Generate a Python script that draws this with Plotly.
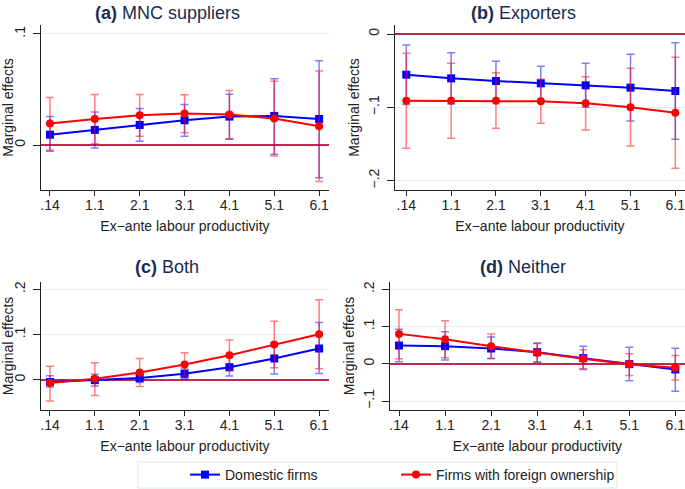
import plotly.graph_objects as go

W, H = 685, 489

labels = [".14", "1.1", "2.1", "3.1", "4.1", "5.1", "6.1"]

a_dom = [0.0093, 0.0136, 0.0181, 0.0223, 0.0256, 0.0262, 0.0235]
a_dom_lo = [-0.0057, -0.0027, 0.0033, 0.0078, 0.0051, -0.0084, -0.0295]
a_dom_hi = [0.0256, 0.0298, 0.0328, 0.0364, 0.0458, 0.0596, 0.0759]
a_for = [0.0193, 0.0235, 0.0268, 0.0283, 0.0274, 0.0238, 0.0169]
a_for_lo = [-0.0048, 0.0012, 0.0078, 0.0111, 0.0057, -0.0099, -0.0328]
a_for_hi = [0.0428, 0.0455, 0.0455, 0.0452, 0.0491, 0.0575, 0.0666]

b_dom = [-0.0555, -0.0605, -0.0641, -0.0673, -0.0700, -0.0732, -0.0777]
b_dom_lo = [-0.096, -0.0955, -0.091, -0.0905, -0.100, -0.1186, -0.1436]
b_dom_hi = [-0.015, -0.0255, -0.0373, -0.0441, -0.040, -0.0277, -0.0118]
b_for = [-0.0909, -0.0909, -0.0909, -0.0918, -0.0945, -0.1000, -0.1073]
b_for_lo = [-0.1559, -0.1423, -0.1286, -0.1218, -0.1309, -0.1527, -0.1832]
b_for_hi = [-0.0264, -0.0400, -0.0527, -0.0618, -0.0582, -0.0468, -0.0318]

c_dom = [-0.0050, -0.0007, 0.0037, 0.0132, 0.0279, 0.0471, 0.0691]
c_dom_lo = [-0.0160, -0.0140, -0.0060, 0.0020, 0.0081, 0.0125, 0.0140]
c_dom_hi = [0.0088, 0.0120, 0.0130, 0.0240, 0.0507, 0.0817, 0.1265]
c_for = [-0.0074, 0.0022, 0.0162, 0.0338, 0.0544, 0.0779, 0.1007]
c_for_lo = [-0.0471, -0.0346, -0.0147, 0.0081, 0.0199, 0.0265, 0.0243]
c_for_hi = [0.0301, 0.0375, 0.0471, 0.0596, 0.0882, 0.1294, 0.1772]

d_dom = [0.0491, 0.0473, 0.0411, 0.0313, 0.0152, -0.0009, -0.0152]
d_dom_lo = [0.0055, 0.0100, 0.0143, 0.0045, -0.0150, -0.0455, -0.0740]
d_dom_hi = [0.0930, 0.0860, 0.0720, 0.0560, 0.0470, 0.0446, 0.0420]
d_for = [0.0804, 0.0661, 0.0473, 0.0295, 0.0134, -0.0009, -0.0107]
d_for_lo = [0.0134, 0.0160, 0.0143, 0.0045, -0.0125, -0.0313, -0.0438]
d_for_hi = [0.1450, 0.1160, 0.0804, 0.0545, 0.0375, 0.0268, 0.0223]

panel_titles = ["<b>(a)</b> MNC suppliers", "<b>(b)</b> Exporters",
                "<b>(c)</b> Both", "<b>(d)</b> Neither"]
series_names = ["Domestic firms", "Firms with foreign ownership"]
x_title = "Ex\u2212ante labour productivity"
y_title = "Marginal effects"

a_ticks = [0, 0.1]
a_ticktext = ["0", ".1"]
b_ticks = [-0.2, -0.1, 0]
b_ticktext = ["\u2212.2", "\u2212.1", "0"]
c_ticks = [0, 0.1, 0.2]
c_ticktext = ["0", ".1", ".2"]
d_ticks = [-0.1, 0, 0.1, 0.2]
d_ticktext = ["\u2212.1", "0", ".1", ".2"]

FONT = "Liberation Sans, Arial, Helvetica, sans-serif"
BLUE = "#0000ff"
RED = "#ff0000"
TITLE_C = "#1c2b4f"
TXT = "#222222"
ZERO_C = "#c0284f"


def px_x(p):
    return p / W


def px_y(p):
    return 1 - p / H


panels = [
    dict(dom=(a_dom, a_dom_lo, a_dom_hi), fr=(a_for, a_for_lo, a_for_hi),
         box=(41, 329, 25, 190), xr=[-0.2, 6.22], yr=[-0.0405, 0.1081],
         ticks=(a_ticks, a_ticktext), title=panel_titles[0], tx=167, ty=13),
    dict(dom=(b_dom, b_dom_lo, b_dom_hi), fr=(b_for, b_for_lo, b_for_hi),
         box=(395, 685, 25, 190), xr=[-0.252, 6.216], yr=[-0.2128, 0.0123],
         ticks=(b_ticks, b_ticktext), title=panel_titles[1], tx=523, ty=13),
    dict(dom=(c_dom, c_dom_lo, c_dom_hi), fr=(c_for, c_for_lo, c_for_hi),
         box=(41, 329, 282, 410), xr=[-0.2, 6.22], yr=[-0.0669, 0.2163],
         ticks=(c_ticks, c_ticktext), title=panel_titles[2], tx=167, ty=267),
    dict(dom=(d_dom, d_dom_lo, d_dom_hi), fr=(d_for, d_for_lo, d_for_hi),
         box=(390, 685, 282, 410), xr=[-0.196, 6.21], yr=[-0.1241, 0.2198],
         ticks=(d_ticks, d_ticktext), title=panel_titles[3], tx=523, ty=267),
]

fig = go.Figure()
layout = dict(
    width=W, height=H,
    margin=dict(l=0, r=0, t=0, b=0, autoexpand=False),
    paper_bgcolor="white", plot_bgcolor="white",
    font=dict(family=FONT, size=13, color=TXT),
    showlegend=True,
)
annotations = []
shapes = []

for i, p in enumerate(panels):
    n = "" if i == 0 else str(i + 1)
    xa, ya = "x" + n, "y" + n
    for (vals, lo, hi), color, sym, name, ebc, lg in [
        (p["dom"], BLUE, "square", series_names[0], "rgba(0,0,255,0.5)", "legend"),
        (p["fr"], RED, "circle", series_names[1], "rgba(255,0,0,0.5)", "legend2"),
    ]:
        fig.add_trace(go.Scatter(
            x=labels, y=vals, xaxis=xa, yaxis=ya, mode="lines+markers",
            name=name, showlegend=(i == 0), legend=lg, cliponaxis=False,
            line=dict(color=color, width=2),
            marker=dict(symbol=sym, color=color, size=8),
            error_y=dict(type="data", symmetric=False,
                         array=[h - v for h, v in zip(hi, vals)],
                         arrayminus=[v - l for v, l in zip(vals, lo)],
                         color=ebc, thickness=1.5, width=4),
        ))
    l, r, t, b = p["box"]
    layout["xaxis" + n] = dict(
        domain=[px_x(l), px_x(r)], anchor=ya, type="category",
        categoryorder="array", categoryarray=labels,
        range=p["xr"], showgrid=False, zeroline=False, automargin=False,
        showline=True, linecolor=TXT, linewidth=1,
        ticks="outside", ticklen=5, tickcolor=TXT, ticklabelstandoff=-3,
        tickfont=dict(size=14, color=TXT),
        title=dict(text=x_title, font=dict(size=14, color=TXT), standoff=9),
    )
    layout["yaxis" + n] = dict(
        domain=[px_y(b), px_y(t)], anchor=xa, range=p["yr"],
        tickvals=p["ticks"][0], ticktext=p["ticks"][1], tickangle=-90,
        showgrid=True, gridcolor="#e4eef0", gridwidth=1,
        zeroline=True, zerolinecolor=ZERO_C, zerolinewidth=1.6,
        automargin=False,
        showline=True, linecolor=TXT, linewidth=1,
        ticks="outside", ticklen=7, tickcolor=TXT, ticklabelstandoff=2,
        tickfont=dict(size=14, color=TXT),
        title=dict(text=y_title, font=dict(size=14, color=TXT), standoff=3),
    )
    annotations.append(dict(text=p["title"], x=px_x(p["tx"]), y=px_y(p["ty"]),
                            xref="paper", yref="paper", showarrow=False,
                            xanchor="center", yanchor="middle",
                            font=dict(size=18, color=TITLE_C, family=FONT)))

shapes.append(dict(type="rect", xref="paper", yref="paper",
                   x0=px_x(138), x1=px_x(617), y0=px_y(488), y1=px_y(462),
                   line=dict(color="#dfe8ea", width=1), fillcolor="rgba(0,0,0,0)"))

layout["annotations"] = annotations
layout["shapes"] = shapes
legend_common = dict(orientation="h", xanchor="left", yanchor="top",
                     bgcolor="rgba(0,0,0,0)", borderwidth=0,
                     font=dict(size=14, color=TXT))
layout["legend"] = dict(x=px_x(185), y=px_y(459), **legend_common)
layout["legend2"] = dict(x=px_x(396), y=px_y(459), **legend_common)
fig.update_layout(**layout)
fig.write_html("out.html", config={"displayModeBar": False},
               post_script="document.body.style.margin='0';document.body.style.overflow='hidden';")
